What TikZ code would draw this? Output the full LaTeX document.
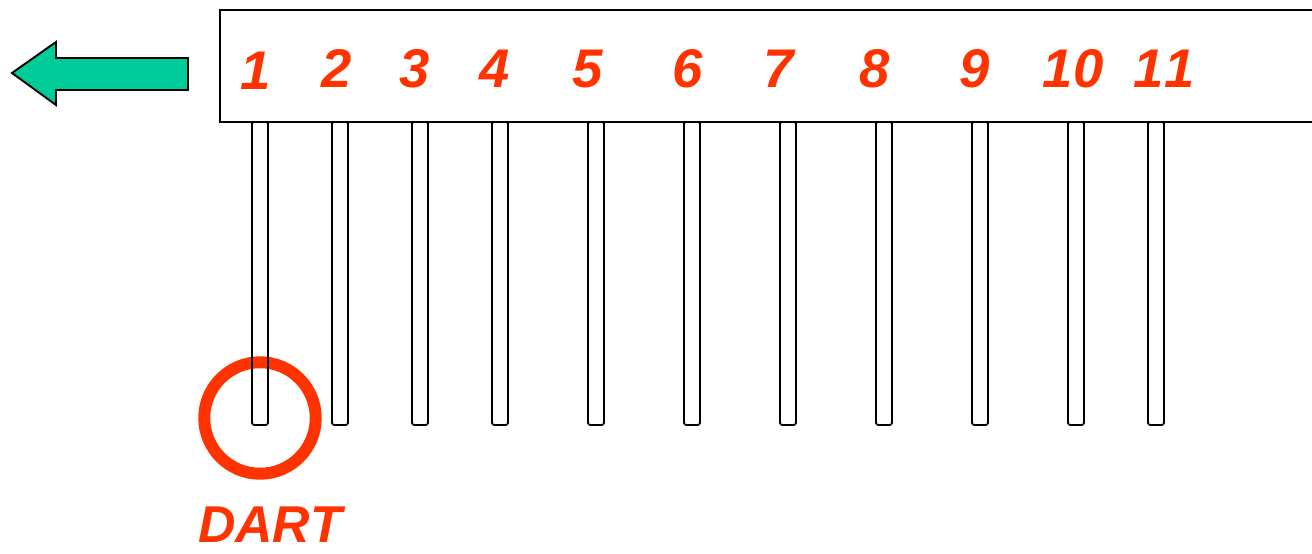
\documentclass[tikz,border=0pt]{standalone}
\usepackage{fontspec}
\setmainfont{Liberation Sans}[Kerning=Off]
\usepackage{tikz}

\definecolor{dartred}{HTML}{FF3300}
\definecolor{arrowgreen}{HTML}{00CC99}

\tikzset{
  leg/.style={draw, line width=0.9pt, rectangle, rounded corners=1pt,
    minimum width=0.32cm, minimum height=6.06cm, inner sep=0pt},
  num/.style={anchor=base, text=dartred, inner sep=0pt,
    font=\fontsize{31}{31}\selectfont\bfseries\itshape},
}

\begin{document}
\begin{tikzpicture}[x=0.02cm, y=-0.02cm]
            \useasboundingbox (0,0) rectangle (1312,554);
            \clip (0,0) rectangle (1312,554);

            % Direction arrow
            \draw[fill=arrowgreen, line width=1.1pt, line join=miter]
              (12,73) -- (56,42) -- (56,58) -- (188,58) -- (188,90)
              -- (56,90) -- (56,105) -- cycle;

            % Ring round the first leg
            \node (ring) [circle, draw=dartred, line width=6.8pt, minimum size=2.23cm,
              inner sep=0pt] at (260,418) {};

            % Legs
            \node (leg1) [leg] at (260,273.5) {};
            \node (leg2) [leg] at (340,273.5) {};
            \node (leg3) [leg] at (420,273.5) {};
            \node (leg4) [leg] at (500,273.5) {};
            \node (leg5) [leg] at (596,273.5) {};
            \node (leg6) [leg] at (692,273.5) {};
            \node (leg7) [leg] at (788,273.5) {};
            \node (leg8) [leg] at (884,273.5) {};
            \node (leg9) [leg] at (980,273.5) {};
            \node (leg10) [leg] at (1076,273.5) {};
            \node (leg11) [leg] at (1156,273.5) {};

            % Head bar
            \draw[fill=white, line width=1.3pt] (220,10) rectangle (1340,122);

            % Numbers
            \node (n1) [num] at (256,90) {1};
            \node (n2) [num] at (337,88) {2};
            \node (n3) [num] at (415,88) {3};
            \node (n4) [num] at (495,88) {4};
            \node (n5) [num] at (588,88) {5};
            \node (n6) [num] at (688,88) {6};
            \node (n7) [num] at (779,88) {7};
            \node (n8) [num] at (875,88) {8};
            \node (n9) [num] at (975,88) {9};
            \node (n10) [num] at (1073,88) {10};
            \node (n11) [num] at (1164,88) {11};

            % Label
            \node (dart) [num, font=\fontsize{29.5}{29.5}\selectfont\bfseries\itshape]
              at (270,542) {DART};
        \end{tikzpicture}
\end{document}
